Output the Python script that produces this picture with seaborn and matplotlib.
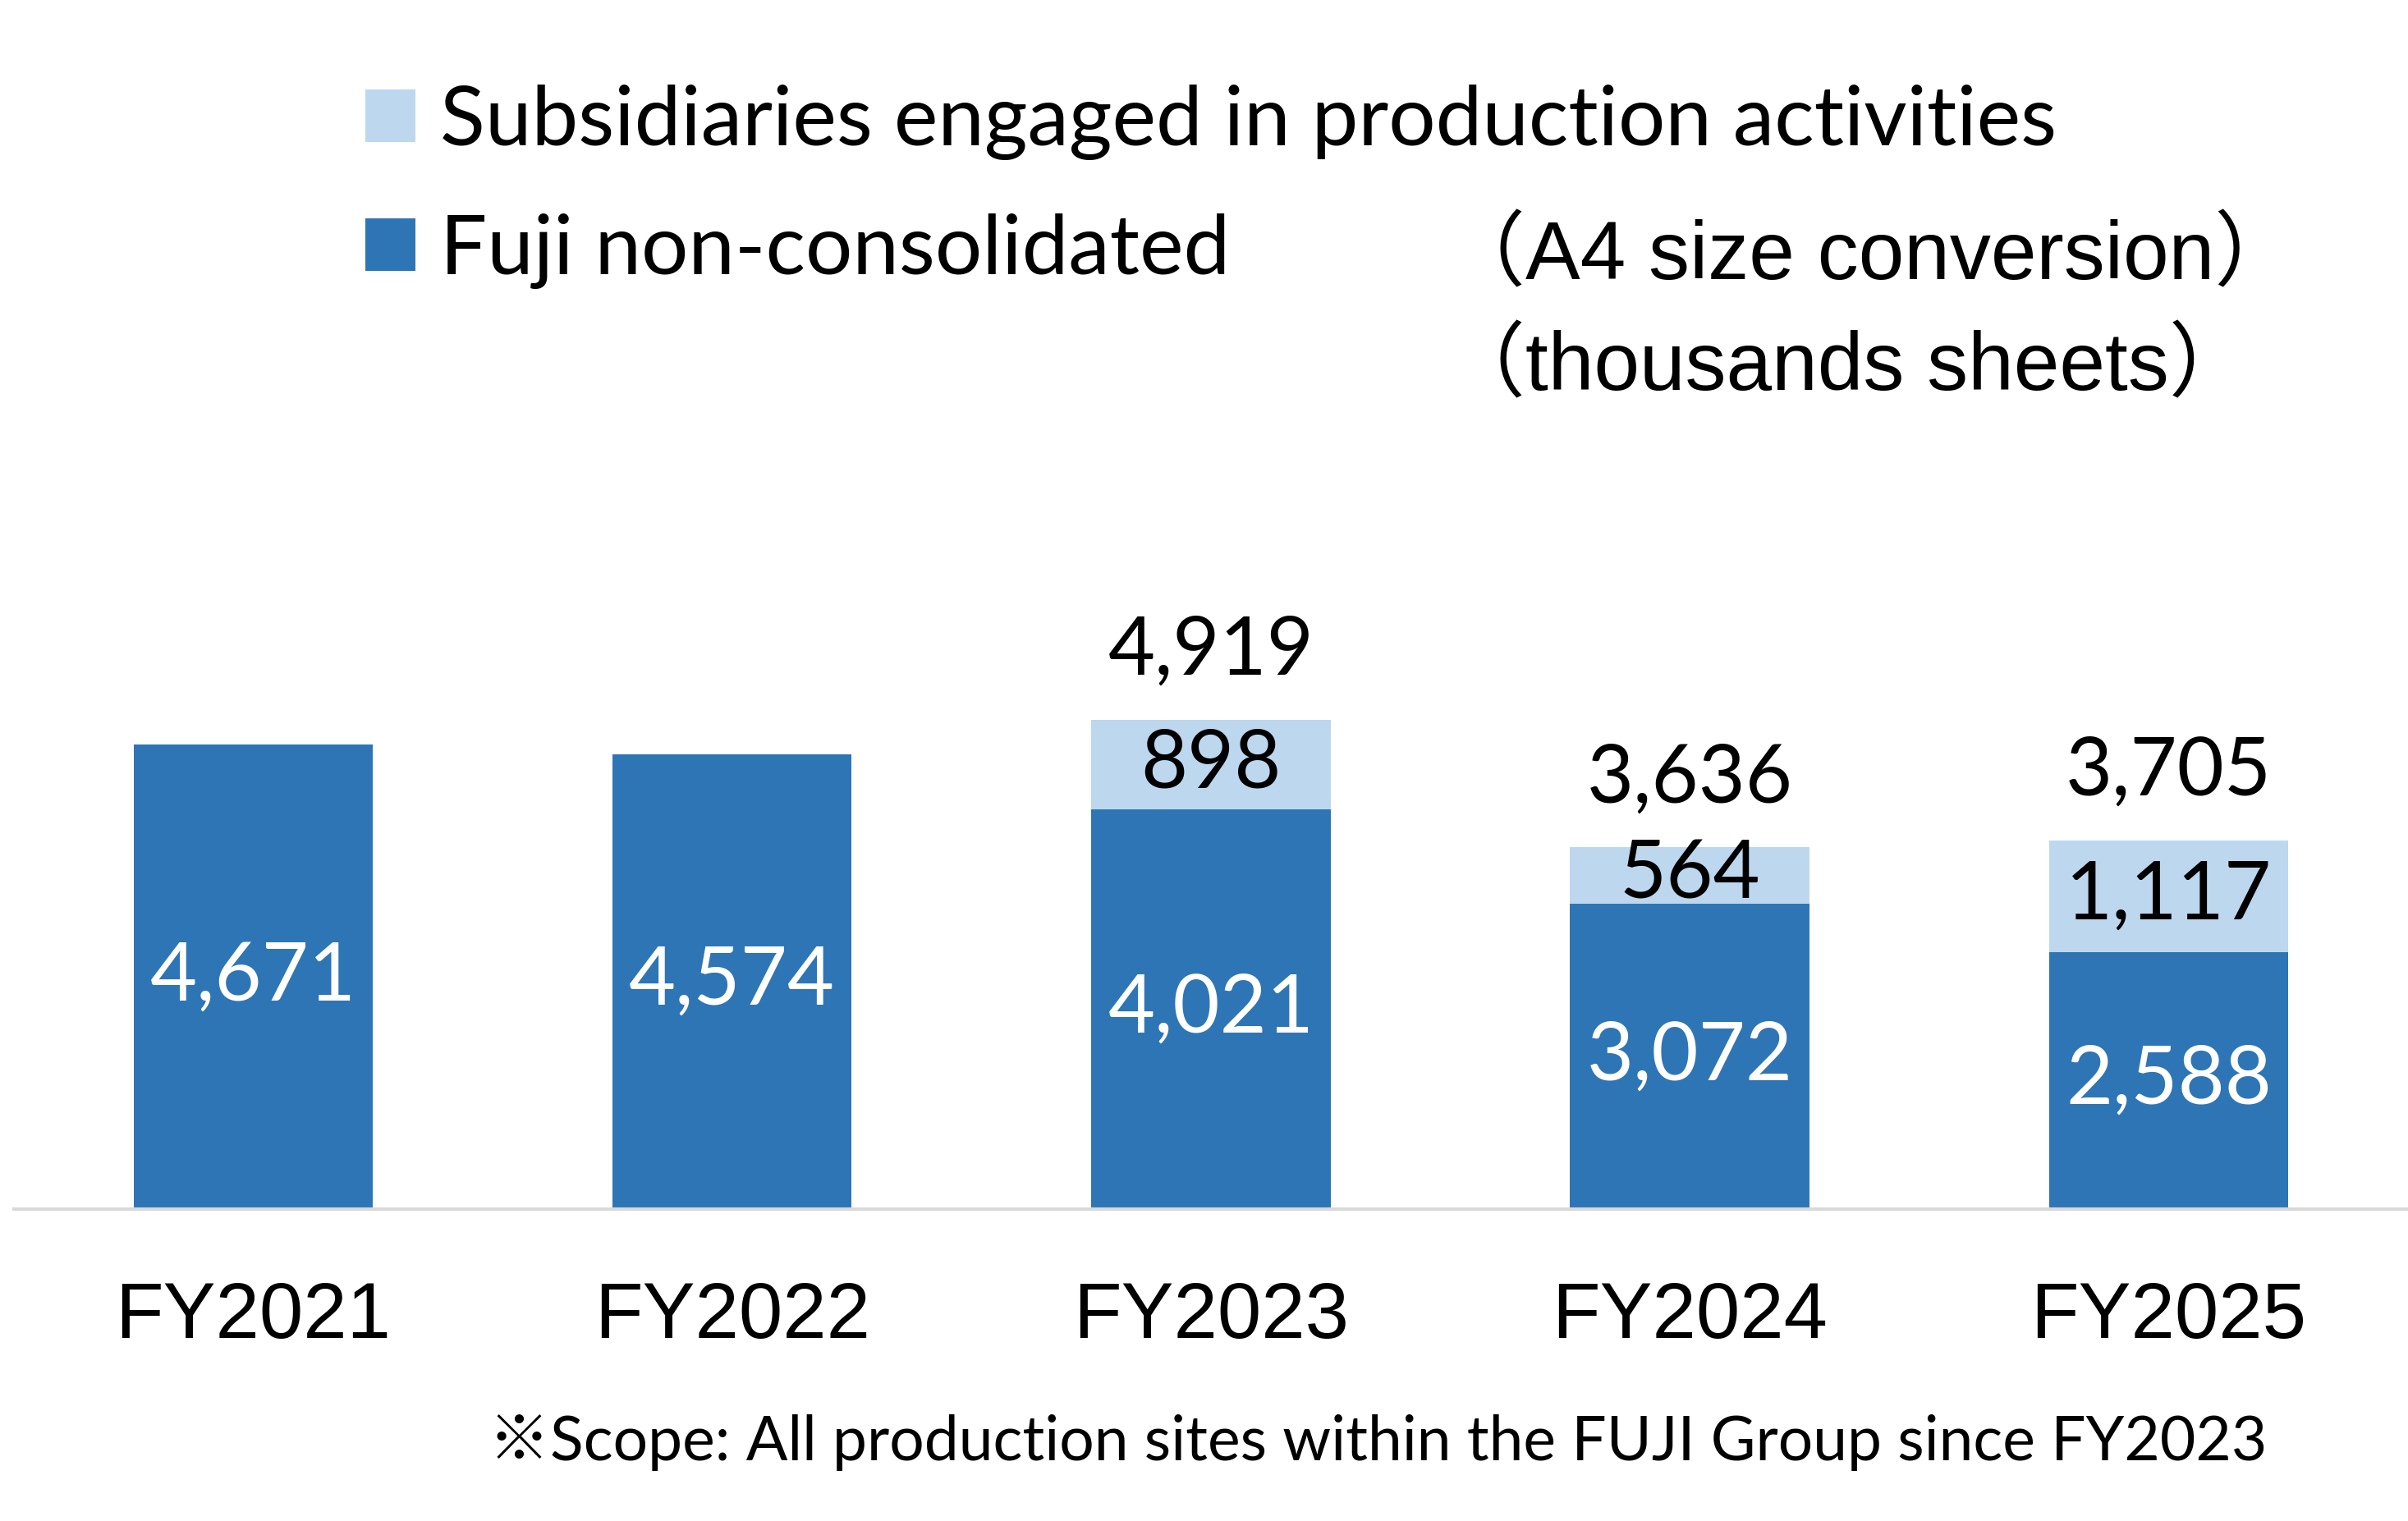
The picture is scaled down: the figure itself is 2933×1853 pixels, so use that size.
import matplotlib
matplotlib.use("Agg")
import matplotlib.pyplot as plt
import seaborn as sns
from matplotlib.patches import Patch

# ---- data ----
years = ["FY2021", "FY2022", "FY2023", "FY2024", "FY2025"]
fuji = [4671, 4574, 4021, 3072, 2588]
subs = [0, 0, 898, 564, 1117]
totals_shown = [None, None, 4919, 3636, 3705]
legend_labels = ["Subsidiaries engaged in production activities", "Fuji non-consolidated"]
unit_lines = ["（A4 size conversion）", "（thousands sheets）"]
footnote = "※Scope: All production sites within the FUJI Group since FY2023"

DARK = "#2E75B6"
LIGHT = "#BDD7EE"

sns.set_theme(style="white")
plt.rcParams["font.family"] = ["Lato", "Noto Sans CJK JP", "DejaVu Sans"]
plt.rcParams["text.color"] = "black"

W, H = 2933, 1853
fig = plt.figure(figsize=(W / 100, H / 100), dpi=100)
ax = fig.add_axes([9 / 1568, 1 - 788 / 991, 1 - 9 / 1568, 788 / 991])

totals = [f + s for f, s in zip(fuji, subs)]
sns.barplot(x=years, y=totals, color=LIGHT, width=0.5, saturation=1, ax=ax,
            linewidth=0, order=years)
sns.barplot(x=years, y=fuji, color=DARK, width=0.5, saturation=1, ax=ax,
            linewidth=0, order=years)

ax.set_xlim(-0.5, 4.5)
ax.set_ylim(0, 788 / (303 / 4671))

for s in ["top", "left", "right"]:
    ax.spines[s].set_visible(False)
ax.spines["bottom"].set_color("#d9d9d9")
ax.spines["bottom"].set_linewidth(3)
ax.set_yticks([])
ax.set_ylabel("")
ax.set_xlabel("")
ax.tick_params(axis="x", length=0, pad=62)
for lab in ax.get_xticklabels():
    lab.set_fontfamily(["Liberation Sans", "DejaVu Sans"])
    lab.set_fontsize(69)
    lab.set_color("black")

VFS = 71
for i, (f, s, t) in enumerate(zip(fuji, subs, totals_shown)):
    ax.text(i, f / 2, f"{f:,}", ha="center", va="center", color="white", fontsize=VFS)
    if s:
        ax.text(i, f + s / 2, f"{s:,}", ha="center", va="center", color="black", fontsize=VFS)
    if t is not None:
        ax.annotate(f"{t:,}", xy=(i, t), xytext=(0, 60), textcoords="offset points",
                    ha="center", va="center", color="black", fontsize=VFS)

handles = [Patch(facecolor=LIGHT, edgecolor="none"), Patch(facecolor=DARK, edgecolor="none")]
leg = fig.legend(handles, legend_labels, loc="upper left", bbox_to_anchor=(238 / 1568, 1 - 55 / 991),
                 frameon=False, fontsize=73, handlelength=0.6, handleheight=0.6,
                 handletextpad=0.3, labelspacing=0.64, borderpad=0, borderaxespad=0)
for t in leg.get_texts():
    t.set_color("black")

for k, line in enumerate(unit_lines):
    fig.text(940 / 1568, 1 - (168 + 72 * k) / 991, line, ha="left", va="center",
             fontsize=72, color="black", family=["Liberation Sans", "Noto Sans CJK JP"])

fig.text(318 / 1568, 1 - 940 / 991, footnote, ha="left", va="center", fontsize=54, color="black")

fig.savefig("out.png", dpi=100, facecolor="white")
